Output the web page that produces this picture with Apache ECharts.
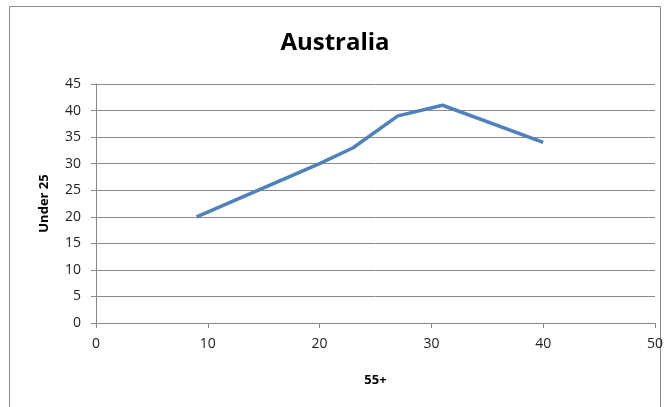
<!DOCTYPE html>
<html>
<head>
<meta charset="utf-8">
<script src="https://cdn.jsdelivr.net/npm/echarts@6/dist/echarts.min.js"></script>
<style>
html,body{margin:0;padding:0;background:#fff;}
#c{width:670px;height:407px;}
</style>
</head>
<body>
<div id="c"></div>
<script>
const titleText = "Australia";
const xName = "55+";
const yName = "Under 25";
const xValues = [9, 20, 23, 27, 31, 40];
const yValues = [20, 30, 33, 39, 41, 34];

const chart = echarts.init(document.getElementById('c'));
const font = "'Open Sans', 'Liberation Sans', sans-serif";
chart.setOption({
  animation: false,
  backgroundColor: '#fff',
  graphic: [{
    type: 'rect',
    shape: {x: 9.5, y: 6.5, width: 651, height: 420},
    style: {fill: 'none', stroke: '#8c8c8c', lineWidth: 1},
    silent: true
  }],
  title: {
    text: titleText,
    left: 'center',
    top: 26,
    textStyle: {fontFamily: font, fontSize: 24, fontWeight: 'bold', color: '#000'}
  },
  grid: {left: 96, right: 15, top: 84, bottom: 84},
  xAxis: {
    type: 'value',
    min: 0, max: 50, interval: 10,
    name: xName,
    nameLocation: 'middle',
    nameGap: 51,
    nameTextStyle: {fontFamily: font, fontSize: 13, fontWeight: 'bold', color: '#000'},
    axisLine: {show: true, lineStyle: {color: '#888', width: 1}},
    axisTick: {show: true, inside: false, length: 5, lineStyle: {color: '#888'}},
    axisLabel: {fontFamily: font, fontSize: 14, color: '#222', margin: 14},
    splitLine: {show: false}
  },
  yAxis: {
    type: 'value',
    min: 0, max: 45, interval: 5,
    name: yName,
    nameLocation: 'middle',
    nameGap: 45,
    nameRotate: 90,
    nameTextStyle: {fontFamily: font, fontSize: 13, fontWeight: 'bold', color: '#000'},
    axisLine: {show: true, lineStyle: {color: '#888', width: 1}},
    axisTick: {show: true, inside: false, length: 5, lineStyle: {color: '#888'}},
    axisLabel: {fontFamily: font, fontSize: 14, color: '#222', margin: 15},
    splitLine: {show: true, lineStyle: {color: '#8a8a8a', width: 1}}
  },
  series: [{
    type: 'line',
    data: xValues.map((x, i) => [x, yValues[i]]),
    symbol: 'none',
    smooth: false,
    lineStyle: {color: '#4F81BD', width: 3.5}
  }]
});
</script>
</body>
</html>
